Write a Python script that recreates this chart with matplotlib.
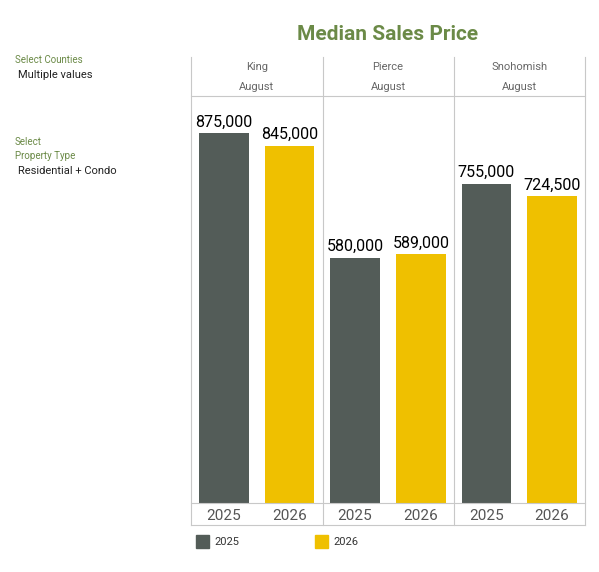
import matplotlib.pyplot as plt
from matplotlib.lines import Line2D

counties = ['King', 'Pierce', 'Snohomish']
month = 'August'
years = ['2025', '2026']
values_2025 = [875000, 580000, 755000]
values_2026 = [845000, 589000, 724500]

GRAY = '#535c58'
YELLOW = '#efc000'
GREEN = '#6b8a47'
LINE = '#c8c8c8'

W, H = 599, 572
fig = plt.figure(figsize=(W / 100, H / 100), dpi=100)

def fx(px):
    return px / W

def fy(py):
    return 1 - py / H

ax = fig.add_axes([fx(191), fy(503), fx(585) - fx(191), fy(96) - fy(503)])
for i in range(len(counties)):
    ax.bar(i + 0.25, values_2025[i], width=0.38, color=GRAY)
    ax.bar(i + 0.75, values_2026[i], width=0.38, color=YELLOW)
    ax.text(i + 0.25, values_2025[i] + 8000, f'{values_2025[i]:,}', ha='center', va='bottom', fontsize=11.5, family='Roboto')
    ax.text(i + 0.75, values_2026[i] + 8000, f'{values_2026[i]:,}', ha='center', va='bottom', fontsize=11.5, family='Roboto')
ax.set_xlim(0, 3)
ax.set_ylim(0, 962000)
ax.axis('off')

# grid lines of the table layout
for px in [191, 323, 454, 585]:
    fig.add_artist(Line2D([fx(px), fx(px)], [fy(57), fy(525)], color=LINE, lw=0.8))
for py in [96, 503, 525]:
    fig.add_artist(Line2D([fx(191), fx(585)], [fy(py), fy(py)], color=LINE, lw=0.8))

for i, name in enumerate(counties):
    cx = fx(191 + 131.3 * (i + 0.5))
    fig.text(cx, fy(67), name, ha='center', va='center', fontsize=8, color='#666666', family='Roboto')
    fig.text(cx, fy(87), month, ha='center', va='center', fontsize=8, color='#666666', family='Roboto')
    for j, yr in enumerate(years):
        fig.text(fx(191 + 131.3 * (i + 0.25 + 0.5 * j)), fy(516), yr, ha='center', va='center',
                 fontsize=11, color='#555555', family='Roboto')

fig.text(fx(388), fy(34), 'Median Sales Price', ha='center', va='center', fontsize=15,
         fontweight='bold', color=GREEN, family='Roboto')

fig.text(fx(15), fy(60), 'Select Counties', fontsize=7, color=GREEN, va='center', family='Roboto')
fig.text(fx(18), fy(75), 'Multiple values', fontsize=8, color='#222222', va='center', family='Roboto')
fig.text(fx(15), fy(142), 'Select', fontsize=7, color=GREEN, va='center', family='Roboto')
fig.text(fx(15), fy(156), 'Property Type', fontsize=7, color=GREEN, va='center', family='Roboto')
fig.text(fx(18), fy(171), 'Residential + Condo', fontsize=8, color='#222222', va='center', family='Roboto')

# legend
for lx, yr, col in [(196, years[0], GRAY), (315, years[1], YELLOW)]:
    fig.patches.append(plt.Rectangle((fx(lx), fy(548)), fx(13), fy(535) - fy(548),
                                     transform=fig.transFigure, color=col))
    fig.text(fx(lx + 18), fy(542), yr, fontsize=8, va='center', color='#333333', family='Roboto')

fig.savefig('out.png', dpi=100, facecolor='white')
